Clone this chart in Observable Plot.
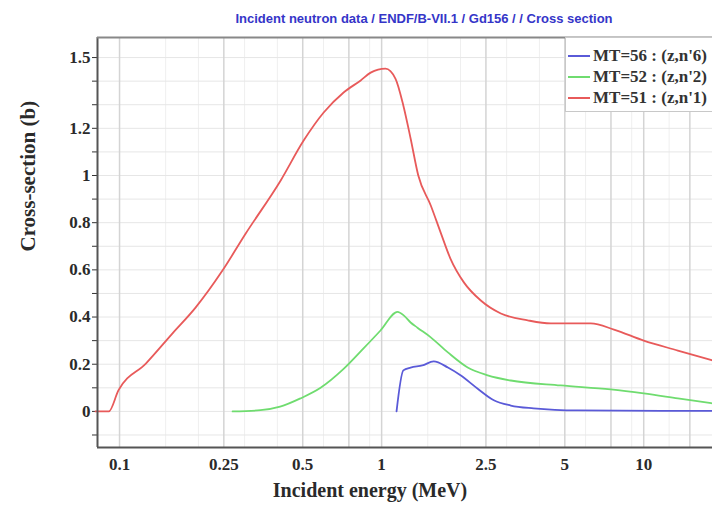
<!DOCTYPE html>
<html>
<head>
<meta charset="utf-8">
<script src="https://cdn.jsdelivr.net/npm/d3@7"></script>
<script src="https://cdn.jsdelivr.net/npm/@observablehq/plot@0.6"></script>
<style>
  body { margin: 0; background: #fff; }
  #wrap { position: relative; width: 712px; height: 507px; overflow: hidden; background: #fff; }
  #wrap svg { display: block; }
  g[aria-label="x-axis tick label"] text, g[aria-label="y-axis tick label"] text {
    font-family: "Liberation Serif", serif; font-weight: bold; font-size: 17px; fill: #2a2a2a;
  }
  .legend { position: absolute; left: 565px; top: 37px; width: 170px; height: 75px;
    border: 1px solid #c8c8c8; background: #fff; box-sizing: border-box;
    font-family: "Liberation Serif", serif; font-weight: bold; font-size: 17px; color: #333; }
  .legend .row { position: absolute; left: 0; height: 20px; line-height: 20px; white-space: nowrap; }
  .legend .sw { position: absolute; left: 2px; top: 9px; width: 22px; height: 2px; }
  .legend .lb { position: absolute; left: 27px; top: 0; }
</style>
</head>
<body>
<div id="wrap"></div>
<script>
// ---- data ----
const titleText = "Incident neutron data / ENDF/B-VII.1 / Gd156 / / Cross section";
const xLabel = "Incident energy (MeV)";
const yLabel = "Cross-section (b)";

const xTicks = [0.1, 0.25, 0.5, 1, 2.5, 5, 10];
const xMajorGrid = [0.1, 0.25, 0.5, 0.75, 1, 2.5, 5, 7.5, 10, 15];
const xMinorGrid = [0.15, 0.2, 0.3, 0.4, 0.6, 0.9, 1.5, 2, 3, 4, 6, 9, 12.5];
const yTicks = [0, 0.2, 0.4, 0.6, 0.8, 1, 1.2, 1.5];

const seriesNames = ["MT=56 : (z,n'6)", "MT=52 : (z,n'2)", "MT=51 : (z,n'1)"];
const seriesColors = ["#5a5ad8", "#6fdc6f", "#e85a5a"];

// MT=51 (red)
const mt51E = [0.081, 0.091, 0.099, 0.126, 0.159, 0.195, 0.247, 0.303, 0.412, 0.504, 0.601, 0.716, 0.832, 0.908, 1.035, 1.13, 1.21, 1.29, 1.38, 1.54, 1.68, 1.83, 2.06, 2.39, 2.85, 3.61, 4.42, 6.28, 7.7, 10, 13.5, 18.3];
const mt51V = [0, 0, 0.089, 0.203, 0.33, 0.44, 0.597, 0.754, 0.979, 1.148, 1.267, 1.352, 1.403, 1.436, 1.453, 1.41, 1.297, 1.157, 1.0, 0.873, 0.758, 0.648, 0.547, 0.47, 0.415, 0.386, 0.373, 0.373, 0.347, 0.30, 0.258, 0.216];
// MT=52 (green)
const mt52E = [0.27, 0.345, 0.41, 0.49, 0.585, 0.716, 0.853, 0.99, 1.15, 1.22, 1.29, 1.37, 1.54, 1.79, 2.13, 2.54, 3.11, 4.82, 7.48, 10, 13.5, 18.3];
const mt52V = [0, 0.005, 0.02, 0.055, 0.10, 0.18, 0.267, 0.343, 0.422, 0.405, 0.377, 0.355, 0.314, 0.25, 0.186, 0.153, 0.131, 0.11, 0.093, 0.076, 0.055, 0.034];
// MT=56 (blue)
const mt56E = [1.14, 1.21, 1.29, 1.43, 1.58, 1.79, 2.0, 2.32, 2.68, 3.11, 3.8, 5.6, 18.3];
const mt56V = [0, 0.174, 0.186, 0.195, 0.212, 0.186, 0.153, 0.097, 0.047, 0.025, 0.013, 0.004, 0.002];

const xDomain = [0.0824, 18.3];
const yDomain = [-0.153, 1.585];

// ---- build ----
const toRows = (E, V) => E.map((e, i) => ({E: e, v: V[i]}));
const r51 = toRows(mt51E, mt51V), r52 = toRows(mt52E, mt52V), r56 = toRows(mt56E, mt56V);
const yGrid = d3.range(-1, 16).map(i => Math.round(i) / 10);
const fmt = d => String(d);

const chart = Plot.plot({
  width: 712, height: 507,
  marginLeft: 97, marginRight: 0, marginTop: 37, marginBottom: 60,
  x: {type: "log", domain: xDomain},
  y: {domain: yDomain},
  style: {background: "#fff", color: "#333", overflow: "visible"},
  marks: [
    Plot.ruleX(xMinorGrid, {stroke: "#efefef"}),
    Plot.ruleY(yGrid, {stroke: "#e6e6e6"}),
    Plot.ruleX(xMajorGrid, {stroke: "#d4d4d4", strokeWidth: 1.5}),
    Plot.axisX({ticks: xTicks, tickFormat: fmt, tickSize: 0, tickPadding: 10, label: null}),
    Plot.axisY({ticks: yGrid, tickFormat: d => yTicks.includes(d) ? fmt(d) : "", tickSize: 5, tickPadding: 2, label: null}),
    Plot.line(r52, {x: "E", y: "v", stroke: seriesColors[1], strokeWidth: 1.8, curve: "monotone-x"}),
    Plot.line(r56, {x: "E", y: "v", stroke: seriesColors[0], strokeWidth: 1.8, curve: "monotone-x"}),
    Plot.line(r51, {x: "E", y: "v", stroke: seriesColors[2], strokeWidth: 1.8, curve: "monotone-x"}),
    Plot.ruleX([xDomain[0]], {stroke: "#555", strokeWidth: 2}),
    Plot.ruleY([yDomain[0]], {stroke: "#555", strokeWidth: 2}),
    Plot.ruleY([yDomain[1]], {stroke: "#888", strokeWidth: 2}),
    Plot.text([titleText], {frameAnchor: "top", dx: 19, dy: -24, fill: "#3535c8", fontWeight: "bold", fontSize: 13, fontFamily: "Liberation Sans"}),
    Plot.text([xLabel], {frameAnchor: "bottom", dx: -35, dy: 49, fill: "#2a2a2a", fontWeight: "bold", fontSize: 20, fontFamily: "Liberation Serif"}),
    Plot.text([yLabel], {frameAnchor: "left", dx: -69, dy: 9, rotate: -90, fill: "#2a2a2a", fontWeight: "bold", fontSize: 21, fontFamily: "Liberation Serif"})
  ]
});

const wrap = document.getElementById("wrap");
wrap.appendChild(chart);

const legend = document.createElement("div");
legend.className = "legend";
seriesNames.forEach((name, i) => {
  const row = document.createElement("div");
  row.className = "row";
  row.style.top = (8 + i * 21) + "px";
  const sw = document.createElement("span");
  sw.className = "sw";
  sw.style.background = seriesColors[i];
  const lb = document.createElement("span");
  lb.className = "lb";
  lb.textContent = name;
  row.appendChild(sw); row.appendChild(lb);
  legend.appendChild(row);
});
wrap.appendChild(legend);
</script>
</body>
</html>
